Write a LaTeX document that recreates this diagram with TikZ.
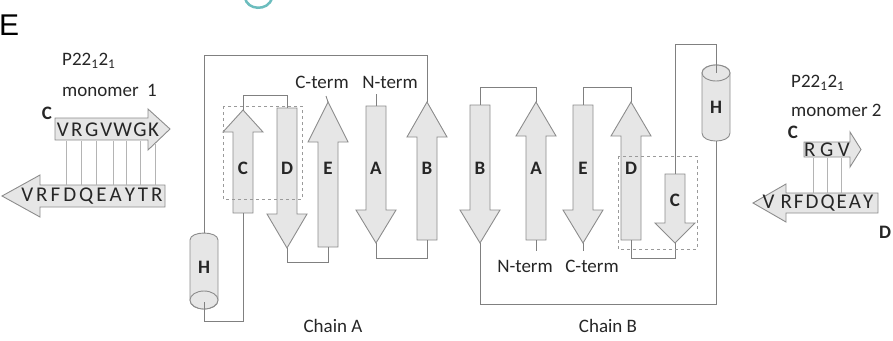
\documentclass[tikz,border=0pt]{standalone}
\usepackage{fontspec}
\setmainfont{Carlito}
\newfontfamily\arialf{Liberation Sans}
\definecolor{sf}{HTML}{E6E6E6}
\definecolor{sg}{HTML}{8C8C8C}
\definecolor{cg}{HTML}{808080}
\definecolor{bg}{HTML}{9A9A9A}
\definecolor{lg}{HTML}{B4B4B4}
\definecolor{tc}{HTML}{262626}
\definecolor{teal1}{HTML}{6CBDBE}
\newcommand\gp[1][3pt]{\hspace{#1}}
% up strand: name, cx, tip, headbase, bottom, label, labely
\newcommand\strandup[7]{%
  \draw[strand] (#2-10,#5) -- (#2-10,#4) -- (#2-20,#4) -- (#2,#3) -- (#2+20,#4) -- (#2+10,#4) -- (#2+10,#5) -- cycle;
  \coordinate (#1-tip) at (#2,#3);
  \coordinate (#1-end) at (#2,#5);
  \node[lab] (#1-lab) at (#2,#7) {#6};}
% down strand: name, cx, top, headbase, tip, label, labely
\newcommand\stranddown[7]{%
  \draw[strand] (#2-10,#3) -- (#2-10,#4) -- (#2-20,#4) -- (#2,#5) -- (#2+20,#4) -- (#2+10,#4) -- (#2+10,#3) -- cycle;
  \coordinate (#1-end) at (#2,#3);
  \coordinate (#1-tip) at (#2,#5);
  \node[lab] (#1-lab) at (#2,#7) {#6};}
\begin{document}
\begin{tikzpicture}[x=1pt,y=-1pt,
  strand/.style={draw=sg, fill=sf, line width=0.9pt, line join=miter},
  conn/.style={draw=cg, line width=0.9pt},
  lab/.style={font=\fontsize{19}{19}\selectfont\bfseries, text=tc, inner sep=0pt},
  txt/.style={font=\fontsize{19}{19}\selectfont, text=tc, inner sep=0pt},
  seq/.style={font=\fontsize{21}{21}\selectfont, text=tc, inner sep=0pt},
  boxd/.style={draw=bg, dashed, line width=0.8pt},
  pairline/.style={draw=lg, line width=0.8pt}]
\useasboundingbox (0,0) rectangle (893,340);
% fragment of another panel
\draw[teal1, line width=2.5pt] (245,-2) .. controls (247,10) and (268,12) .. (272,-2);
% panel letter
\node[font=\arialf\fontsize{30}{30}\selectfont, text=black, inner sep=0pt, anchor=west] (panel) at (-1,25) {E};

% ---------- Chain A ----------
\stranddown{aD}{287}{108}{214}{248}{D}{168}
\strandup{aE}{328}{102}{142}{247}{E}{168}
\stranddown{aA}{376}{106}{210}{243}{A}{168}
\strandup{aB}{427}{102}{137}{240}{B}{168}
\strandup{aC}{243}{110}{132}{213}{C}{168}
% helix A
\draw[strand] (190,240) .. controls (190,230.7) and (218,230.7) .. (218,240) -- (218,300) .. controls (218,312) and (190,312) .. (190,300) -- cycle;
\draw[strand] (204,300) ellipse [x radius=14pt, y radius=9pt];
\coordinate (aH-top) at (204,233);
\coordinate (aH-bot) at (204,302);
\node[lab] (aH-lab) at (204,267) {H};
% connectors
\coordinate (aLoopL) at (204,55);
\coordinate (aLoopR) at (427,55);
\draw[conn] (aH-top) -- (aLoopL) -- (aLoopR) -- (aB-tip);
\draw[conn] (aC-tip) -- ++(0,-15) -| (aD-end);
\draw[conn] (aD-tip) -- ++(0,14) -| (aE-end);
\draw[conn] (aA-tip) -- ++(0,15) -| (aB-end);
\draw[conn] (aH-bot) -- (204,321) -| (aC-end);
\coordinate (aCt) at (326,96);
\coordinate (aNt) at (376,94);
\draw[conn] (aE-tip) -- (aCt);
\draw[conn] (aA-end) -- (aNt);
\node[txt] (aCterm) at (322,82) {C-term};
\node[txt] (aNterm) at (390,82) {N-term};
\draw[boxd] (223,106) rectangle (302,199);
\node[txt] (chainA) at (333,326) {Chain A};

% ---------- Chain B ----------
\stranddown{bB}{480}{105}{210}{243}{B}{168}
\strandup{bA}{536}{102}{136}{240}{A}{168}
\stranddown{bE}{583}{105}{210}{243}{E}{168}
\strandup{bD}{631}{102}{136}{240}{D}{168}
\stranddown{bC}{675}{174}{223}{243}{C}{200}
% helix B
\draw[strand] (702,73) .. controls (702,62.3) and (730,62.3) .. (730,73) -- (730,133) .. controls (730,143.7) and (702,143.7) .. (702,133) -- cycle;
\draw[strand] (716,73) ellipse [x radius=14pt, y radius=8pt];
\coordinate (bH-top) at (716,73);
\coordinate (bH-bot) at (716,141);
\node[lab] (bH-lab) at (716,107) {H};
\draw[conn] (bB-tip) -- (480,304) -| (bH-bot);
\draw[conn] (bB-end) -- ++(0,-18) -| (bA-tip);
\draw[conn] (bE-end) -- ++(0,-18) -| (bD-tip);
\draw[conn] (bD-end) -- ++(0,18) -| (bC-tip);
\draw[conn] (bC-end) -- (675,44) -| (bH-top);
\coordinate (bNt) at (536,251);
\coordinate (bCt) at (583,251);
\draw[conn] (bA-end) -- (bNt);
\draw[conn] (bE-tip) -- (bCt);
\node[txt] (bNterm) at (525,266) {N-term};
\node[txt] (bCterm) at (592,266) {C-term};
\draw[boxd] (618,156) rectangle (697,249);
\node[txt] (chainB) at (608,326) {Chain B};

% ---------- monomer 1 ----------
\node[txt, anchor=west] (m1a) at (62,61) {P22\textsubscript{1}2\textsubscript{1}};
\node[txt, anchor=west] (m1b) at (62,90) {monomer\ \ 1};
\node[lab] (m1C) at (47,113) {C};
\draw[strand] (55,118) -- (148,118) -- (148,109) -- (170,129) -- (148,150) -- (148,140) -- (55,140) -- cycle;
\draw[strand] (165,185) -- (40,185) -- (40,175) -- (2,196) -- (40,217) -- (40,207) -- (165,207) -- cycle;
\foreach \xx in {66,81,96,113,126,140} \draw[pairline] (\xx,140.5) -- (\xx,184.5);
\draw[pairline] (155,143.5) -- (155,184.5);
\node[seq] (m1up) at (108,129.5) {V\gp[2.5pt]R\gp[2.5pt]G\gp[2pt]V\gp[1pt]W\gp[1.5pt]G\gp[1.5pt]K};
\node[seq] (m1lo) at (92,196.5) {V\gp R\gp F\gp D\gp Q\gp E\gp A\gp Y\gp T\gp R};

% ---------- monomer 2 ----------
\node[txt, anchor=west] (m2a) at (791,83) {P22\textsubscript{1}2\textsubscript{1}};
\node[txt, anchor=west] (m2b) at (791,110) {monomer 2};
\node[lab] (m2C) at (793,132) {C};
\draw[strand] (804,142) -- (850,142) -- (850,132) -- (861,149.5) -- (850,167) -- (850,157) -- (804,157) -- cycle;
\draw[strand] (878,193) -- (786,193) -- (786,184) -- (753,203) -- (786,222) -- (786,213) -- (878,213) -- cycle;
\foreach \xx in {813,827,841} \draw[pairline] (\xx,157.5) -- (\xx,192.5);
\node[seq] (m2up) at (827,150) {R\gp[4.5pt]G\gp[4.5pt]V};
\node[seq] (m2lo) at (818,203.5) {V\gp[6pt]R\gp[2pt]F\gp[2pt]D\gp[2pt]Q\gp[2pt]E\gp[2pt]A\gp[2pt]Y};
\node[lab] (m2D) at (885,232) {D};
\end{tikzpicture}
\end{document}
